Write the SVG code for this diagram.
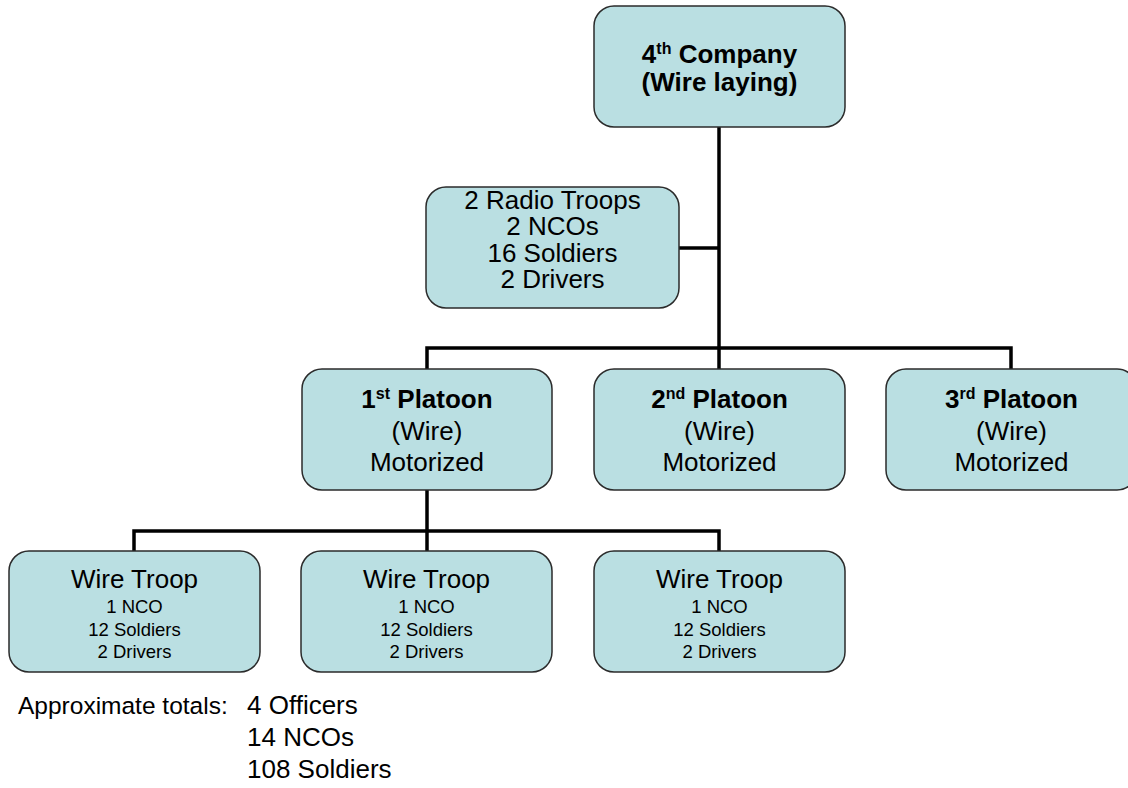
<svg xmlns="http://www.w3.org/2000/svg" width="1128" height="788" viewBox="0 0 1128 788">
<style>
.box{fill:#BADFE2;stroke:#2b2b2b;stroke-width:1.5}
.t{font-family:"Liberation Sans",Arial,sans-serif;font-size:26px;fill:#000;text-anchor:middle}
.b{font-weight:bold}
.s{font-family:"Liberation Sans",Arial,sans-serif;font-size:18.5px;fill:#000;text-anchor:middle}
.sup{font-size:16px}
.tl{font-family:"Liberation Sans",Arial,sans-serif;font-size:26px;fill:#000}
.c{fill:none;stroke:#000;stroke-width:3.5}
</style>
<rect width="1128" height="788" fill="#fff"/>
<g id="connectors">
<path class="c" d="M719,127 V348"/>
<path class="c" d="M679,248 H719"/>
<path class="c" d="M427,369 V348 H1011 V369"/>
<path class="c" d="M719,348 V369"/>
<path class="c" d="M427,490 V531"/>
<path class="c" d="M134,551 V531 H719 V551"/>
<path class="c" d="M427,531 V551"/>
</g>
<g id="company">
<rect class="box" x="594" y="6" width="251" height="121" rx="20"/>
<text class="t b" x="719.5" y="63">4<tspan class="sup" dy="-9">th</tspan><tspan dy="9"> Company</tspan></text>
<text class="t b" x="719.5" y="91">(Wire laying)</text>
</g>
<g id="radio">
<rect class="box" x="426" y="187" width="253" height="121" rx="20"/>
<text class="t" x="552.5" y="209">2 Radio Troops</text>
<text class="t" x="552.5" y="235">2 NCOs</text>
<text class="t" x="552.5" y="262">16 Soldiers</text>
<text class="t" x="552.5" y="288">2 Drivers</text>
</g>
<g id="platoon1">
<rect class="box" x="302" y="369" width="250" height="121" rx="20"/>
<text class="t b" x="427" y="408">1<tspan class="sup" dy="-9">st</tspan><tspan dy="9"> Platoon</tspan></text>
<text class="t" x="427" y="440">(Wire)</text>
<text class="t" x="427" y="471">Motorized</text>
</g>
<g id="platoon2">
<rect class="box" x="594" y="369" width="251" height="121" rx="20"/>
<text class="t b" x="719.5" y="408">2<tspan class="sup" dy="-9">nd</tspan><tspan dy="9"> Platoon</tspan></text>
<text class="t" x="719.5" y="440">(Wire)</text>
<text class="t" x="719.5" y="471">Motorized</text>
</g>
<g id="platoon3">
<rect class="box" x="886" y="369" width="251" height="121" rx="20"/>
<text class="t b" x="1011.5" y="408">3<tspan class="sup" dy="-9">rd</tspan><tspan dy="9"> Platoon</tspan></text>
<text class="t" x="1011.5" y="440">(Wire)</text>
<text class="t" x="1011.5" y="471">Motorized</text>
</g>
<g id="troop1">
<rect class="box" x="9" y="551" width="251" height="121" rx="20"/>
<text class="t" x="134.5" y="588">Wire Troop</text>
<text class="s" x="134.5" y="613">1 NCO</text>
<text class="s" x="134.5" y="636">12 Soldiers</text>
<text class="s" x="134.5" y="658">2 Drivers</text>
</g>
<g id="troop2">
<rect class="box" x="301" y="551" width="251" height="121" rx="20"/>
<text class="t" x="426.5" y="588">Wire Troop</text>
<text class="s" x="426.5" y="613">1 NCO</text>
<text class="s" x="426.5" y="636">12 Soldiers</text>
<text class="s" x="426.5" y="658">2 Drivers</text>
</g>
<g id="troop3">
<rect class="box" x="594" y="551" width="251" height="121" rx="20"/>
<text class="t" x="719.5" y="588">Wire Troop</text>
<text class="s" x="719.5" y="613">1 NCO</text>
<text class="s" x="719.5" y="636">12 Soldiers</text>
<text class="s" x="719.5" y="658">2 Drivers</text>
</g>
<g id="totals">
<text class="tl" x="18" y="714" style="font-size:24.5px">Approximate totals:</text>
<text class="tl" x="247" y="714">4 Officers</text>
<text class="tl" x="247" y="746">14 NCOs</text>
<text class="tl" x="247" y="778">108 Soldiers</text>
</g>
</svg>
